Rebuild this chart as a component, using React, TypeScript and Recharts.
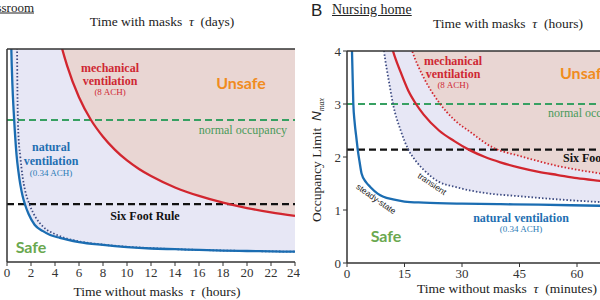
import React from 'react';
import { ComposedChart, Line, Area, XAxis, YAxis, ReferenceLine } from 'recharts';

const serif = '"Liberation Serif", "DejaVu Serif", serif';
const sans = 'Lato, "Open Sans", sans-serif';

// Panel A - classroom
const hoursTicks = [0, 2, 4, 6, 8, 10, 12, 14, 16, 18, 20, 22, 24];
const daysTicks = [0, 1, 2, 3, 4, 5, 6, 7, 8, 9, 10, 11];
const aLevels = [0, 1, 2, 3, 4, 5, 6];
const aNatT = [0.3, 0.36, 0.45, 0.55, 0.65, 0.8, 0.95, 1.1, 1.3, 1.5, 1.8, 2.3, 3, 3.6, 4.4, 5, 6, 8, 10, 12, 14, 16, 18, 20, 22, 24];
const aNatN = [7.2, 6.0, 5.0, 4.28, 3.7, 3.0, 2.55, 2.2, 1.86, 1.62, 1.35, 1.05, 0.87, 0.76, 0.68, 0.63, 0.56, 0.48, 0.42, 0.38, 0.36, 0.34, 0.32, 0.31, 0.3, 0.29];
const aTrT = [0.8, 0.84, 0.88, 0.95, 1.1, 1.3, 1.5, 1.9, 2.4, 3, 4.1, 5, 6, 8, 10, 12, 16, 20, 24];
const aTrN = [8, 6, 4.5, 3.6, 3.0, 2.4, 2.03, 1.6, 1.25, 1.0, 0.77, 0.66, 0.58, 0.49, 0.43, 0.39, 0.34, 0.31, 0.29];
const aMechT = [4.2, 4.6, 5, 6, 7, 8, 9, 10, 11, 12, 14, 16, 18, 20, 22, 24];
const aMechN = [6.55, 6.0, 5.54, 4.64, 4.0, 3.53, 3.16, 2.86, 2.62, 2.42, 2.1, 1.86, 1.67, 1.52, 1.4, 1.3];
const aNormal = 4;
const aSixFoot = 1.63;

// Panel B - nursing home (only the part up to ~66 min is in view)
const minTicks = [0, 15, 30, 45, 60];
const hrTicks = [0, 25, 50, 75, 100];
const bLevels = [0, 1, 2, 3, 4];
const bNatT = [1.0, 1.3, 1.65, 2, 2.5, 2.8, 3.3, 3.8, 5, 6, 8, 9.5, 12, 15, 20, 30, 40, 50, 66, 75];
const bNatN = [5.2, 4.0, 3.0, 2.65, 2.33, 2.14, 1.9, 1.69, 1.52, 1.44, 1.31, 1.25, 1.2, 1.16, 1.14, 1.12, 1.11, 1.1, 1.08, 1.07];
const bTrT = [9, 9.65, 11, 12, 14, 16, 18, 20, 24, 28, 32, 36, 45, 55, 66, 75];
const bTrN = [4.4, 4.0, 3.4, 3.0, 2.5, 2.14, 1.92, 1.76, 1.53, 1.44, 1.37, 1.32, 1.26, 1.2, 1.15, 1.12];
const bMechT = [10, 12, 14, 16, 18, 20, 24, 28, 32, 36, 40, 45, 50, 55, 60, 66, 75];
const bMechN = [4.6, 4.0, 3.6, 3.25, 3.0, 2.8, 2.5, 2.3, 2.13, 2.0, 1.9, 1.8, 1.72, 1.66, 1.6, 1.55, 1.48];
const bMechTrT = [15, 17, 20, 24, 28, 32, 38, 45, 50, 55, 60, 66, 75];
const bMechTrN = [4.5, 4.0, 3.5, 3.03, 2.7, 2.48, 2.18, 2.02, 1.92, 1.83, 1.76, 1.69, 1.6];
const bNormal = 3;
const bSixFoot = 2.14;

const zip = (ts: number[], ns: number[]) => ts.map((t, i) => ({ t, n: ns[i] }));
const band = (ts: number[], ns: number[], top: number) => ts.map((t, i) => ({ t, band: [ns[i], top] }));

const BLUE = '#1b6db2';
const RED = '#d2262f';
const NAVY = '#3d4b82';
const GREEN = '#37a062';
const PINK = '#e9d6d3';
const LAV = '#e7e7f5';
const AXIS = '#333';

const tickStyle = { fontFamily: serif, fontSize: 13, fill: '#333' };
const axisLine = { stroke: AXIS, strokeWidth: 1.5 };

const Txt = ({ x, y, children, style, align = 'center', rotate = 0 }: any) => (
  <div
    style={{
      position: 'absolute',
      left: x,
      top: y,
      transform: `translate(${align === 'center' ? '-50%' : align === 'right' ? '-100%' : '0'}, -50%) rotate(${rotate}deg)`,
      whiteSpace: 'nowrap',
      lineHeight: 1,
      fontFamily: serif,
      color: '#222',
      ...style,
    }}
  >
    {children}
  </div>
);

const Tau = () => <i>&tau;</i>;

const PanelA = () => (
  <div style={{ position: 'absolute', left: -43, top: 0 }}>
    <ComposedChart width={343} height={300} margin={{ top: 19, right: 5, bottom: 8, left: 0 }}>
      <XAxis dataKey="t" type="number" domain={[0, 24]} ticks={hoursTicks} allowDataOverflow height={30}
        tickSize={4} tickMargin={2} tick={tickStyle} axisLine={axisLine} tickLine={{ stroke: AXIS }} />
      <XAxis xAxisId="top" orientation="top" type="number" domain={[0, 11.53]} ticks={daysTicks} height={30}
        tickSize={4} tickMargin={2} tick={tickStyle} axisLine={axisLine} tickLine={{ stroke: AXIS }} />
      <YAxis type="number" domain={[0, 6]} ticks={aLevels} allowDataOverflow width={50} tick={false}
        tickSize={4} axisLine={axisLine} tickLine={{ stroke: AXIS }} />
      <Area data={band(aNatT, aNatN, 7)} dataKey="band" type="monotone" fill={LAV} fillOpacity={1} stroke="none" isAnimationActive={false} />
      <Area data={band(aMechT, aMechN, 7)} dataKey="band" type="monotone" fill={PINK} fillOpacity={1} stroke="none" isAnimationActive={false} />
      <ReferenceLine y={aNormal} stroke={GREEN} strokeWidth={2} strokeDasharray="7 4" />
      <ReferenceLine y={aSixFoot} stroke="#111" strokeWidth={2.2} strokeDasharray="7 4" />
      <Line data={zip(aTrT, aTrN)} dataKey="n" type="monotone" stroke={NAVY} strokeWidth={1.8} strokeDasharray="1.5 2" dot={false} isAnimationActive={false} />
      <Line data={zip(aNatT, aNatN)} dataKey="n" type="monotone" stroke={BLUE} strokeWidth={2.3} dot={false} isAnimationActive={false} />
      <Line data={zip(aMechT, aMechN)} dataKey="n" type="monotone" stroke={RED} strokeWidth={2.3} dot={false} isAnimationActive={false} />
    </ComposedChart>
  </div>
);

const PanelB = () => (
  <div style={{ position: 'absolute', left: 300, top: 0, width: 300 }}>
    <ComposedChart width={300} height={300} margin={{ top: 21, right: 0, bottom: 7, left: 0 }}>
      <XAxis dataKey="t" type="number" domain={[0, 66]} ticks={minTicks} allowDataOverflow height={30}
        tickSize={4} tickMargin={2} tick={tickStyle} axisLine={axisLine} tickLine={{ stroke: AXIS }} />
      <XAxis xAxisId="top" orientation="top" type="number" domain={[0, 110]} ticks={hrTicks} height={30}
        tickSize={4} tickMargin={1} tick={tickStyle} axisLine={axisLine} tickLine={{ stroke: AXIS }} />
      <YAxis type="number" domain={[0, 4]} ticks={bLevels} allowDataOverflow width={47}
        tickSize={4} tickMargin={2} tick={tickStyle} axisLine={axisLine} tickLine={{ stroke: AXIS }} />
      <Area data={band(bTrT, bTrN, 5)} dataKey="band" type="monotone" fill={LAV} fillOpacity={1} stroke="none" isAnimationActive={false} />
      <Area data={band(bMechTrT, bMechTrN, 5)} dataKey="band" type="monotone" fill={PINK} fillOpacity={1} stroke="none" isAnimationActive={false} />
      <ReferenceLine y={bNormal} stroke={GREEN} strokeWidth={2} strokeDasharray="7 4" />
      <ReferenceLine y={bSixFoot} stroke="#111" strokeWidth={2.2} strokeDasharray="7 4" />
      <Line data={zip(bTrT, bTrN)} dataKey="n" type="monotone" stroke={NAVY} strokeWidth={1.8} strokeDasharray="1.5 2" dot={false} isAnimationActive={false} />
      <Line data={zip(bMechTrT, bMechTrN)} dataKey="n" type="monotone" stroke={RED} strokeWidth={1.8} strokeDasharray="1.5 2" dot={false} isAnimationActive={false} />
      <Line data={zip(bNatT, bNatN)} dataKey="n" type="monotone" stroke={BLUE} strokeWidth={2.3} dot={false} isAnimationActive={false} />
      <Line data={zip(bMechT, bMechN)} dataKey="n" type="monotone" stroke={RED} strokeWidth={2.3} dot={false} isAnimationActive={false} />
    </ComposedChart>
  </div>
);

const redBold = { color: '#cf2833', fontWeight: 700, fontSize: 12 };
const redSmall = { color: '#cf2833', fontSize: 9 };
const blueBold = { color: '#1f6fb2', fontWeight: 700, fontSize: 12 };
const blueSmall = { color: '#2b7bb6', fontSize: 9 };
const unsafe = { color: '#f08c1e', fontFamily: sans, fontWeight: 700, fontSize: 16 };
const safe = { color: '#6aa84f', fontFamily: sans, fontWeight: 700, fontSize: 16 };
const normal = { color: '#4a9a5a', fontSize: 12 };
const six = { fontWeight: 700, fontSize: 12, color: '#111' };
const axisTitle = { fontSize: 13.5, color: '#222' };
const small = { fontFamily: '"Liberation Sans", Arial, sans-serif', fontSize: 8.5, color: '#222' };

export default function App() {
  return (
    <div style={{ position: 'fixed', left: 0, top: 0, width: 600, height: 300, overflow: 'hidden', background: '#fff' }}>
      <PanelA />
      <PanelB />

      {/* Panel A texts */}
      <Txt x={34} y={7} align="right" style={{ fontSize: 13, textDecoration: 'underline' }}>A&nbsp;&nbsp;Classroom</Txt>
      <Txt x={162} y={22} style={axisTitle}>Time with masks&nbsp;&nbsp;<Tau />&nbsp;&nbsp;(days)</Txt>
      <Txt x={157} y={292} style={axisTitle}>Time without masks&nbsp;&nbsp;<Tau />&nbsp;&nbsp;(hours)</Txt>
      <Txt x={110} y={68} style={redBold}>mechanical</Txt>
      <Txt x={110} y={81} style={redBold}>ventilation</Txt>
      <Txt x={110} y={92} style={redSmall}>(8 ACH)</Txt>
      <Txt x={241} y={83} style={unsafe}>Unsafe</Txt>
      <Txt x={287} y={130} align="right" style={normal}>normal occupancy</Txt>
      <Txt x={51} y={147} style={blueBold}>natural</Txt>
      <Txt x={51} y={161} style={blueBold}>ventilation</Txt>
      <Txt x={51} y={173} style={blueSmall}>(0.34 ACH)</Txt>
      <Txt x={145} y={216} style={six}>Six Foot Rule</Txt>
      <Txt x={31} y={247} style={safe}>Safe</Txt>

      {/* Panel B texts */}
      <Txt x={311} y={10} align="left" style={{ fontFamily: '"Liberation Sans", Arial, sans-serif', fontSize: 17 }}>B</Txt>
      <Txt x={332} y={10} align="left" style={{ fontSize: 14, textDecoration: 'underline' }}>Nursing home</Txt>
      <Txt x={508} y={24} style={axisTitle}>Time with masks&nbsp;&nbsp;<Tau />&nbsp;&nbsp;(hours)</Txt>
      <Txt x={507} y={289} style={axisTitle}>Time without masks&nbsp;&nbsp;<Tau />&nbsp;&nbsp;(minutes)</Txt>
      <Txt x={318} y={160} rotate={-90} style={{ fontSize: 13.5 }}>
        Occupancy Limit&nbsp;&nbsp;<i style={{ fontFamily: '"Liberation Sans", Arial, sans-serif' }}>N</i>
        <sub style={{ fontSize: 8, fontStyle: 'italic' }}>max</sub>
      </Txt>
      <Txt x={453} y={61} style={redBold}>mechanical</Txt>
      <Txt x={453} y={74} style={redBold}>ventilation</Txt>
      <Txt x={453} y={85} style={redSmall}>(8 ACH)</Txt>
      <Txt x={560} y={73} align="left" style={unsafe}>Unsafe</Txt>
      <Txt x={548} y={113} align="left" style={normal}>normal occupancy</Txt>
      <Txt x={563} y={158} align="left" style={six}>Six Foot Rule</Txt>
      <Txt x={432} y={184} rotate={34} style={small}>transient</Txt>
      <Txt x={376} y={199} rotate={35} style={small}>steady-state</Txt>
      <Txt x={521} y={218} style={blueBold}>natural ventilation</Txt>
      <Txt x={521} y={229} style={blueSmall}>(0.34 ACH)</Txt>
      <Txt x={386} y={236} style={safe}>Safe</Txt>
    </div>
  );
}
